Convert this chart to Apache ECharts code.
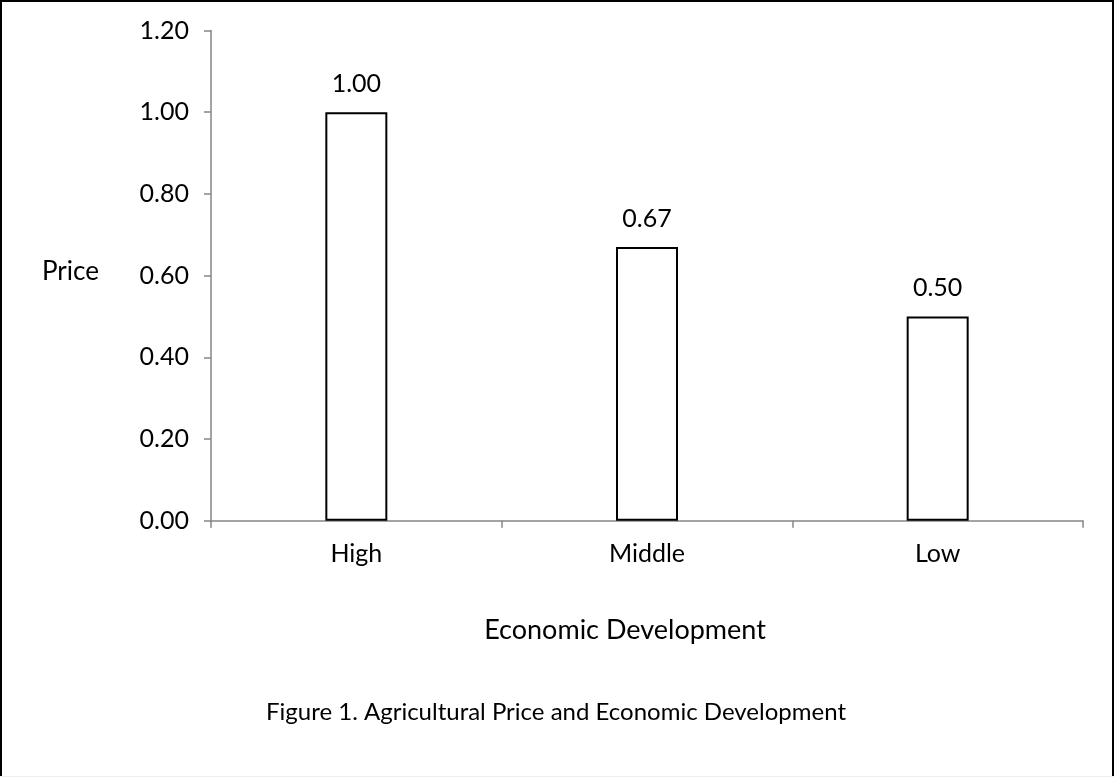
<!DOCTYPE html>
<html>
<head>
<meta charset="utf-8">
<script src="https://cdn.jsdelivr.net/npm/echarts@6/dist/echarts.min.js"></script>
<style>
  html, body { margin: 0; padding: 0; background: #fff; }
  #chart { width: 1114px; height: 777px; }
</style>
</head>
<body>
<div id="chart"></div>
<script>
const categories = ['High', 'Middle', 'Low'];
const prices = [1.00, 0.67, 0.50];
const yTicks = { min: 0, max: 1.2, interval: 0.2 };
const yAxisTitle = 'Price';
const xAxisTitle = 'Economic Development';
const figureCaption = 'Figure 1. Agricultural Price and Economic Development';

const FONT = 'Lato';
const FS = 25;
const chart = echarts.init(document.getElementById('chart'), null, { renderer: 'canvas' });

chart.setOption({
  backgroundColor: '#ffffff',
  animation: false,
  grid: { left: 211, right: 31, top: 30.5, bottom: 256.3, containLabel: false },
  xAxis: {
    type: 'category',
    data: categories,
    boundaryGap: true,
    axisLine: { show: true, lineStyle: { color: '#868686', width: 1.5 } },
    axisTick: { show: true, length: 7, alignWithLabel: false, lineStyle: { color: '#868686', width: 1.5 } },
    axisLabel: { color: '#000', fontFamily: FONT, fontSize: FS, margin: 21 },
    splitLine: { show: false }
  },
  yAxis: {
    type: 'value',
    min: yTicks.min,
    max: yTicks.max,
    interval: yTicks.interval,
    axisLine: { show: true, lineStyle: { color: '#868686', width: 1.5 } },
    axisTick: { show: true, length: 7, lineStyle: { color: '#868686', width: 1.5 } },
    axisLabel: {
      color: '#000', fontFamily: FONT, fontSize: FS, margin: 22,
      formatter: v => v.toFixed(2)
    },
    splitLine: { show: false }
  },
  series: [{
    type: 'bar',
    data: prices,
    barWidth: 62,
    itemStyle: { color: '#ffffff', borderColor: '#000000', borderWidth: 2 },
    label: {
      show: true,
      position: 'top',
      distance: 16,
      color: '#000',
      fontFamily: FONT,
      fontSize: FS,
      formatter: p => p.value.toFixed(2)
    },
    z: 1
  }],
  graphic: [
    {
      type: 'text', z: 10,
      style: { text: yAxisTitle, x: 42, y: 272, fill: '#000', font: `26px ${FONT}`, textAlign: 'left', textVerticalAlign: 'middle' }
    },
    {
      type: 'text', z: 10,
      style: { text: xAxisTitle, x: 625, y: 630, fill: '#000', font: `27px ${FONT}`, textAlign: 'center', textVerticalAlign: 'middle' }
    },
    {
      type: 'text', z: 10,
      style: { text: figureCaption, x: 556, y: 712, fill: '#000', font: `24px ${FONT}`, textAlign: 'center', textVerticalAlign: 'middle' }
    },
    {
      type: 'polyline', z: 20,
      shape: { points: [[1, 777], [1, 1], [1113, 1], [1113, 777]] },
      style: { stroke: '#000', lineWidth: 2, fill: null }
    },
    {
      type: 'line', z: 20,
      shape: { x1: 0, y1: 776.5, x2: 1114, y2: 776.5 },
      style: { stroke: '#eeeeee', lineWidth: 1 }
    }
  ]
});
</script>
</body>
</html>
